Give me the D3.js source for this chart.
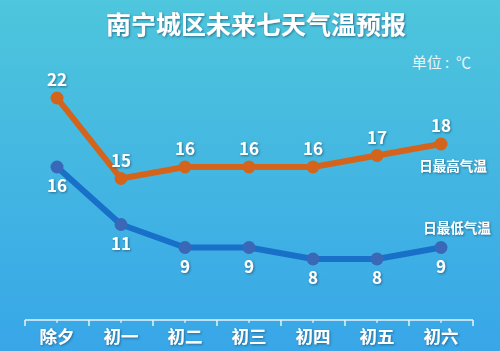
<!DOCTYPE html>
<html>
<head>
    <meta charset="utf-8">
    <script src="https://d3js.org/d3.v7.min.js"></script>
    <style>
        body { margin: 0; padding: 0; overflow: hidden; }
        svg { display: block; }
        text { font-family: "Noto Sans CJK SC", "Noto Sans", sans-serif; fill: #fff; }
        .shadow { filter: url(#shadow); }
    </style>
</head>
<body>
    <div id="vis-container"></div>
    <script>
        const width = 500;
        const height = 351;

        const days = ['除夕', '初一', '初二', '初三', '初四', '初五', '初六'];
        const highTemps = [22, 15, 16, 16, 16, 17, 18];
        const lowTemps = [16, 11, 9, 9, 8, 8, 9];

        const svg = d3.select('#vis-container')
            .append('svg')
            .attr('width', width)
            .attr('height', height);

        const defs = svg.append('defs');
        const grad = defs.append('linearGradient')
            .attr('id', 'bg').attr('x1', 0).attr('y1', 0).attr('x2', 0).attr('y2', 1);
        grad.append('stop').attr('offset', '0%').attr('stop-color', '#4ec6dc');
        grad.append('stop').attr('offset', '100%').attr('stop-color', '#38a6e8');

        const filt = defs.append('filter').attr('id', 'shadow')
            .attr('x', '-20%').attr('y', '-20%').attr('width', '140%').attr('height', '140%');
        filt.append('feDropShadow')
            .attr('dx', 1).attr('dy', 1).attr('stdDeviation', 0.8)
            .attr('flood-color', '#1d4f6e').attr('flood-opacity', 0.7);

        svg.append('rect').attr('width', width).attr('height', height).attr('fill', 'url(#bg)');

        // x band scale spanning the bracket axis
        const x = d3.scaleBand().domain(days).range([25, 473]);
        const cx = d => x(d) + x.bandwidth() / 2;

        // y: 11.5px per degree, 16 at y=167
        const y = d3.scaleLinear().domain([0, 16]).range([351, 167]);

        // title
        svg.append('text')
            .attr('class', 'shadow')
            .attr('x', 256).attr('y', 34)
            .attr('text-anchor', 'middle')
            .attr('font-size', 25).attr('font-weight', 'bold')
            .text('南宁城区未来七天气温预报');

        svg.append('text')
            .attr('x', 471).attr('y', 68)
            .attr('text-anchor', 'end')
            .attr('font-size', 15)
            .style('fill', '#e8f6fb')
            .style('white-space', 'pre')
            .text('单位\u00a0:\u00a0\u00a0℃');

        // axis: bracket line with ticks
        const axisG = svg.append('g').attr('transform', 'translate(0,320)');
        axisG.append('line')
            .attr('x1', x.range()[0]).attr('x2', x.range()[1])
            .attr('stroke', '#e9f4fb').attr('stroke-width', 1.5);
        const bounds = days.map(d => x(d)).concat([x.range()[1]]);
        axisG.selectAll('.bound').data(bounds).join('line')
            .attr('class', 'bound')
            .attr('x1', d => d).attr('x2', d => d)
            .attr('y1', 0).attr('y2', 6)
            .attr('stroke', '#e9f4fb').attr('stroke-width', 1.5);
        axisG.selectAll('.mid').data(days).join('line')
            .attr('class', 'mid')
            .attr('x1', d => cx(d)).attr('x2', d => cx(d))
            .attr('y1', 0).attr('y2', 3)
            .attr('stroke', '#e9f4fb').attr('stroke-width', 1.2);
        axisG.selectAll('.lab').data(days).join('text')
            .attr('class', 'lab shadow')
            .attr('x', d => cx(d)).attr('y', 23)
            .attr('text-anchor', 'middle')
            .attr('font-size', 17.5).attr('font-weight', 'bold')
            .text(d => d);

        const line = d3.line().x((d, i) => cx(days[i])).y(d => y(d));

        function drawSeries(vals, lineColor, dotColor, labelDy) {
            svg.append('path')
                .datum(vals)
                .attr('d', line)
                .attr('fill', 'none')
                .attr('stroke', lineColor)
                .attr('stroke-width', 6)
                .attr('stroke-linejoin', 'round');
            svg.append('g').selectAll('circle').data(vals).join('circle')
                .attr('cx', (d, i) => cx(days[i]))
                .attr('cy', d => y(d))
                .attr('r', 6.5)
                .attr('fill', dotColor);
            svg.append('g').selectAll('text').data(vals).join('text')
                .attr('class', 'shadow')
                .attr('x', (d, i) => cx(days[i]))
                .attr('y', d => y(d) + labelDy)
                .attr('text-anchor', 'middle')
                .attr('font-size', 17).attr('font-weight', 'bold')
                .text(d => d);
        }

        drawSeries(highTemps, '#d4631c', '#d4631c', -12);
        drawSeries(lowTemps, '#1870c8', '#3a68b8', 25);

        svg.append('text')
            .attr('class', 'shadow')
            .attr('x', 453).attr('y', 171)
            .attr('text-anchor', 'middle')
            .attr('font-size', 13.5).attr('font-weight', 'bold')
            .text('日最高气温');
        svg.append('text')
            .attr('class', 'shadow')
            .attr('x', 457).attr('y', 233)
            .attr('text-anchor', 'middle')
            .attr('font-size', 13.5).attr('font-weight', 'bold')
            .text('日最低气温');
    </script>
</body>
</html>
